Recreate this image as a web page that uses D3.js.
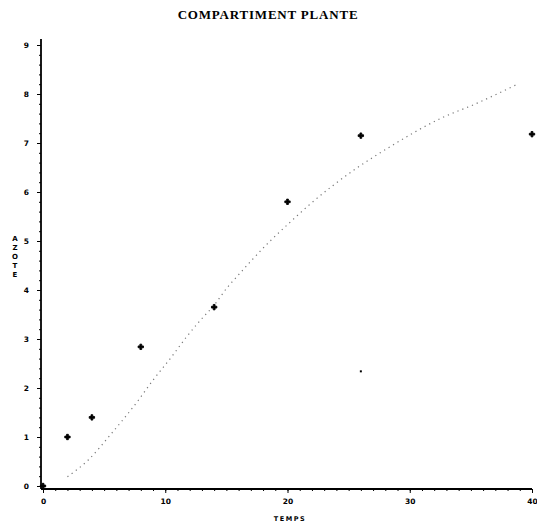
<!DOCTYPE html>
<html>
<head>
<meta charset="utf-8">
<script src="https://cdn.jsdelivr.net/npm/d3@7"></script>
<style>
  body { margin: 0; background: #fff; }
  svg { display: block; }
</style>
</head>
<body>
<svg id="chart" width="537" height="526"></svg>
<script>
// observed values (temps, azote)
const obsTemps = [0, 2, 4, 8, 14, 20, 26, 40];
const obsAzote = [0, 1.0, 1.40, 2.84, 3.65, 5.80, 7.15, 7.18];

// lone small dot
const strayTemps = [26];
const strayAzote = [2.34];

// fitted curve
const fitTemps = [2.0, 3.7, 5.6, 7.8, 9.0, 10.5, 11.7, 12.9, 14.0, 15.1, 15.6, 18.5, 20.2, 21.7, 25.5, 28.3, 32.6, 35.3, 38.8];
const fitAzote = [0.19, 0.53, 1.07, 1.75, 2.16, 2.63, 3.03, 3.39, 3.69, 4.06, 4.20, 4.98, 5.38, 5.72, 6.46, 6.91, 7.51, 7.79, 8.20];

const xTicks = [0, 10, 20, 30, 40];
const yTicks = [0, 1, 2, 3, 4, 5, 6, 7, 8, 9];

const svg = d3.select("#chart");

const x = d3.scaleLinear().domain([0, 40]).range([43, 532]);
const y = d3.scaleLinear().domain([0, 9]).range([486, 45]);

const axisX = 489, axisY = 41;

// title
svg.append("text")
  .attr("x", 268).attr("y", 19)
  .attr("text-anchor", "middle")
  .attr("font-family", "Liberation Serif, serif")
  .attr("font-weight", "bold")
  .attr("font-size", 13)
  .attr("letter-spacing", 0.8)
  .text("COMPARTIMENT PLANTE");

// x axis: minor then major
svg.append("g")
  .attr("transform", `translate(0,${axisX})`)
  .call(d3.axisBottom(x).tickValues(d3.range(0, 41, 1)).tickSize(2).tickSizeOuter(0).tickFormat(""))
  .call(g => g.select(".domain").remove());
svg.append("g")
  .attr("transform", `translate(0,${axisX})`)
  .call(d3.axisBottom(x).tickValues(xTicks).tickSize(4).tickSizeOuter(0).tickPadding(6))
  .call(g => g.select(".domain").attr("stroke-width", 1.8).attr("d", `M${axisY},0H${x(40)}`))
  .call(g => g.selectAll("text").attr("font-size", 7.5).attr("font-weight", "bold").attr("font-family", "DejaVu Sans"));

// y axis: minor then major
svg.append("g")
  .attr("transform", `translate(${axisY},0)`)
  .call(d3.axisLeft(y).tickValues(d3.range(0, 46).map(d => d / 5)).tickSize(2).tickSizeOuter(0).tickFormat(""))
  .call(g => g.select(".domain").remove());
svg.append("g")
  .attr("transform", `translate(${axisY},0)`)
  .call(d3.axisLeft(y).tickValues(yTicks).tickSize(4).tickSizeOuter(0).tickPadding(8))
  .call(g => g.select(".domain").attr("stroke-width", 1.8).attr("d", `M0,${axisX}V${y(9) - 6}`))
  .call(g => g.selectAll("text").attr("font-size", 7.5).attr("font-weight", "bold").attr("font-family", "DejaVu Sans"));

// axis titles
svg.append("text")
  .attr("x", 290).attr("y", 521)
  .attr("text-anchor", "middle")
  .attr("font-family", "DejaVu Sans")
  .attr("font-weight", "bold")
  .attr("font-size", 6.5)
  .attr("letter-spacing", 1.5)
  .text("TEMPS");

const ylab = svg.append("text")
  .attr("font-family", "DejaVu Sans")
  .attr("font-weight", "bold")
  .attr("font-size", 7)
  .attr("text-anchor", "middle");
"AZOTE".split("").forEach((c, i) => {
  ylab.append("tspan").attr("x", 15).attr("y", 241 + i * 9).text(c);
});

// fitted dotted curve
const line = d3.line()
  .x((d, i) => x(fitTemps[i]))
  .y(d => y(d))
  .curve(d3.curveMonotoneX);
svg.append("path")
  .attr("d", line(fitAzote))
  .attr("fill", "none")
  .attr("stroke", "#777")
  .attr("stroke-width", 1.2)
  .attr("stroke-dasharray", "1.2,4");

// observed markers: small filled blobs
svg.append("g")
  .selectAll("path")
  .data(obsAzote)
  .join("path")
  .attr("transform", (d, i) => `translate(${x(obsTemps[i])},${y(d)})`)
  .attr("d", d3.symbol(d3.symbolCross, 16))
  .attr("fill", "#000")
  .attr("stroke", "#000")
  .attr("stroke-width", 0.9);

svg.append("g")
  .selectAll("rect")
  .data(strayAzote)
  .join("rect")
  .attr("x", (d, i) => x(strayTemps[i]) - 1)
  .attr("y", d => y(d) - 1)
  .attr("width", 2).attr("height", 2)
  .attr("fill", "#000");
</script>
</body>
</html>
